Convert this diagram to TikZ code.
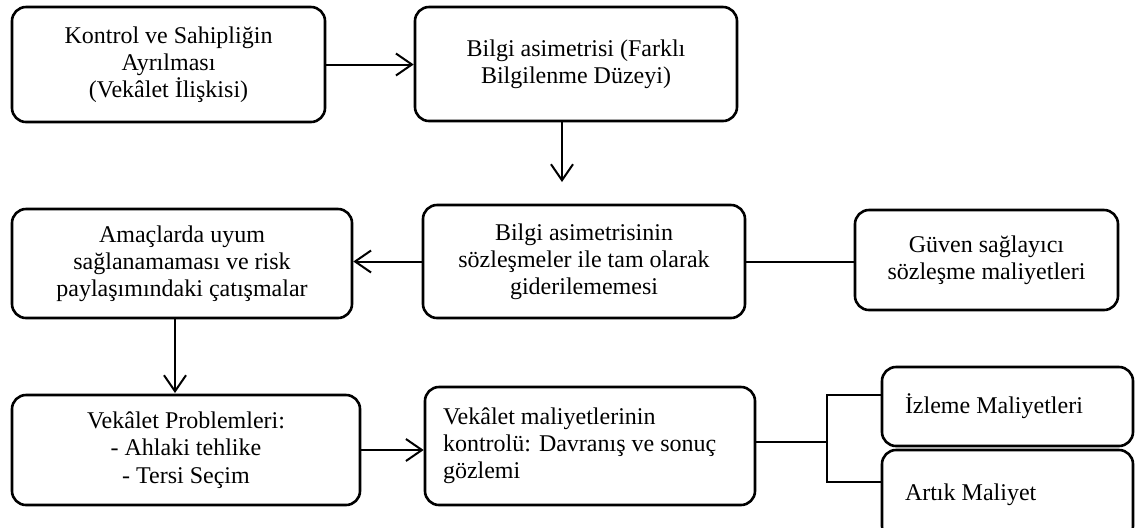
\documentclass[tikz,border=0pt]{standalone}
\usepackage{fontspec}
\setmainfont{Liberation Serif}
\usetikzlibrary{arrows.meta}
\begin{document}
\begin{tikzpicture}[x=0.5pt,y=-0.5pt, every node/.style={font=\fontsize{12}{13.6}\selectfont},
  box/.style={draw,rounded corners=7pt,line width=1.3pt,align=center,inner sep=0pt},
  lbox/.style={box,align=flush left,inner xsep=12pt},
  arr/.style={-{Straight Barb[length=8pt,width=11pt]},line width=1pt},
  lnk/.style={line width=1pt}]
\useasboundingbox (0,0) rectangle (1137,527);
\clip (0,0) rectangle (1137,527);
\node[box,minimum width=156.5pt,minimum height=57.5pt] (kontrol) at (168.5,64.5) {Kontrol ve Sahipliğin\\Ayrılması\\(Vekâlet İlişkisi)};
\node[box,minimum width=161pt,minimum height=57pt] (asimetri) at (576,64) {Bilgi asimetrisi (Farklı\\Bilgilenme Düzeyi)};
\node[box,minimum width=161pt,minimum height=56.5pt] (giderme) at (584,261.5) {Bilgi asimetrisinin\\sözleşmeler ile tam olarak\\giderilememesi};
\node[box,minimum width=131.5pt,minimum height=50pt] (guven) at (986.5,260) {Güven sağlayıcı\\sözleşme maliyetleri};
\node[box,minimum width=170pt,minimum height=54.5pt] (amac) at (182,263.5) {Amaçlarda uyum\\sağlanamaması ve risk\\paylaşımındaki çatışmalar};
\node[box,minimum width=174pt,minimum height=55pt] (problem) at (186,450) {Vekâlet Problemleri:\\- Ahlaki tehlike\\- Tersi Seçim};
\node[lbox,inner xsep=9pt,text width=147pt,minimum height=59pt] (kontrolu) at (590,446) {Vekâlet maliyetlerinin\\kontrolü: Davranış ve sonuç\\gözlemi};
\node[lbox,inner xsep=11.5pt,text width=102.5pt,minimum height=39.5pt] (izleme) at (1007.5,406.5) {İzleme Maliyetleri};
\node[lbox,inner xsep=11.5pt,text width=102.5pt,minimum height=45pt] (artik) at (1007.5,495) {Artık Maliyet};
% free arrow ends
\coordinate (d1) at (562,182);
\coordinate (d2) at (175,393);
\coordinate (fork) at (827,442);
\draw[arr] (kontrol.east) -- (kontrol.east -| asimetri.west);
\draw[arr] (d1 |- asimetri.south) -- (d1);
\draw[arr] (giderme.west) -- (giderme.west -| amac.east);
\draw[lnk] (giderme.east) -- (giderme.east -| guven.west);
\draw[arr] (d2 |- amac.south) -- (d2);
\draw[arr] (problem.east) -- (problem.east -| kontrolu.west);
\draw[lnk] ([yshift=2pt]kontrolu.east) -- (fork);
\draw[lnk] ([yshift=5.75pt]izleme.west) -| (fork) |- ([yshift=6.5pt]artik.west);
\end{tikzpicture}
\end{document}
